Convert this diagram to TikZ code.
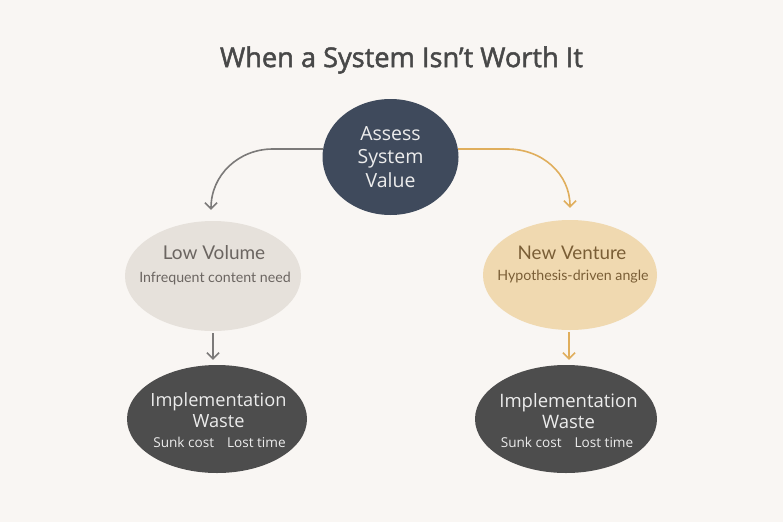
\documentclass[tikz,border=0pt]{standalone}
\usepackage{fontspec}
\setmainfont{Open Sans}
\newfontfamily\latofont{Lato}
\newfontfamily\titlefont[FakeBold=1.8]{Open Sans}
\usetikzlibrary{arrows.meta,shapes.geometric}
\definecolor{bg}{HTML}{F9F6F3}
\definecolor{titlec}{HTML}{484848}
\definecolor{topfill}{HTML}{3F4A5C}
\definecolor{grayfill}{HTML}{E6E1DB}
\definecolor{sandfill}{HTML}{F0D9B0}
\definecolor{darkfill}{HTML}{4D4D4D}
\definecolor{grayarrow}{HTML}{7C7A79}
\definecolor{goldarrow}{HTML}{E0AE5C}
\definecolor{graytext}{HTML}{6B6561}
\definecolor{sandtext}{HTML}{7A5E36}
\definecolor{lighttext}{HTML}{ECECEC}
\begin{document}
\begin{tikzpicture}[x=1pt,y=-1pt,
  blob/.style={ellipse, inner sep=0pt, draw=none},
  conn/.style={line width=1.6pt, -{Straight Barb[length=6pt,width=12pt,line width=1.6pt]}},
  ]
\fill[bg] (0,0) rectangle (783,522);
\useasboundingbox (0,0) rectangle (783,522);
\node[text=titlec, font=\titlefont\fontsize{27.2}{30}\selectfont] (title) at (401.5,60) {When a System Isn’t Worth It};

\node[blob, fill=topfill, minimum width=136pt, minimum height=116pt] (top) at (390.5,157) {};
\node[text=lighttext, align=center, font=\fontsize{19.5}{23.5}\selectfont] (toptxt) at (390.5,157) {Assess\\System\\Value};

\node[blob, fill=grayfill, minimum width=176pt, minimum height=110pt] (low) at (213,276) {};
\node[text=graytext, font=\latofont\fontsize{19}{22}\selectfont] (lowt) at (214,253) {Low Volume};
\node[text=graytext, font=\latofont\fontsize{14.2}{16}\selectfont] (lows) at (215,278) {Infrequent content need};

\node[blob, fill=sandfill, minimum width=174pt, minimum height=110pt] (new) at (570,275) {};
\node[text=sandtext, font=\latofont\fontsize{18.8}{22}\selectfont] (newt) at (572,253) {New Venture};
\node[text=sandtext, font=\latofont\fontsize{14.2}{16}\selectfont] (news) at (573,277) {Hypothesis-driven angle};

\node[blob, fill=darkfill, minimum width=180pt, minimum height=108pt] (wl) at (217,419) {};
\node[text=lighttext, align=center, font=\fontsize{18.2}{20.5}\selectfont] (wlt) at (218.5,410) {Implementation\\Waste};
\node[text=lighttext, font=\fontsize{13.6}{16}\selectfont] (wls) at (219.5,442) {Sunk cost\hspace{13pt}Lost time};

\node[blob, fill=darkfill, minimum width=182pt, minimum height=108pt] (wr) at (566,419) {};
\node[text=lighttext, align=center, font=\fontsize{18.5}{20.5}\selectfont] (wrt) at (568.5,411) {Implementation\\Waste};
\node[text=lighttext, font=\fontsize{13.6}{16}\selectfont] (wrs) at (567,442) {Sunk cost\hspace{13pt}Lost time};

\draw[conn, grayarrow] ([yshift=8pt,xshift=0.5pt]top.west) -- ++(-50,0) .. controls +(-34,0) and +(0,-35) .. ([xshift=-2pt,yshift=11pt]low.north);
\draw[conn, goldarrow] ([yshift=8pt,xshift=-0.5pt]top.east) -- ++(49,0) .. controls +(35,0) and +(0,-34) .. ([yshift=12pt]new.north);
\draw[conn, grayarrow] ([yshift=-2pt]low.south) -- ([yshift=5pt,xshift=-4pt]wl.north);
\draw[conn, goldarrow] ([yshift=-2pt,xshift=-1pt]new.south) -- ([yshift=5pt,xshift=3pt]wr.north);
\end{tikzpicture}
\end{document}
